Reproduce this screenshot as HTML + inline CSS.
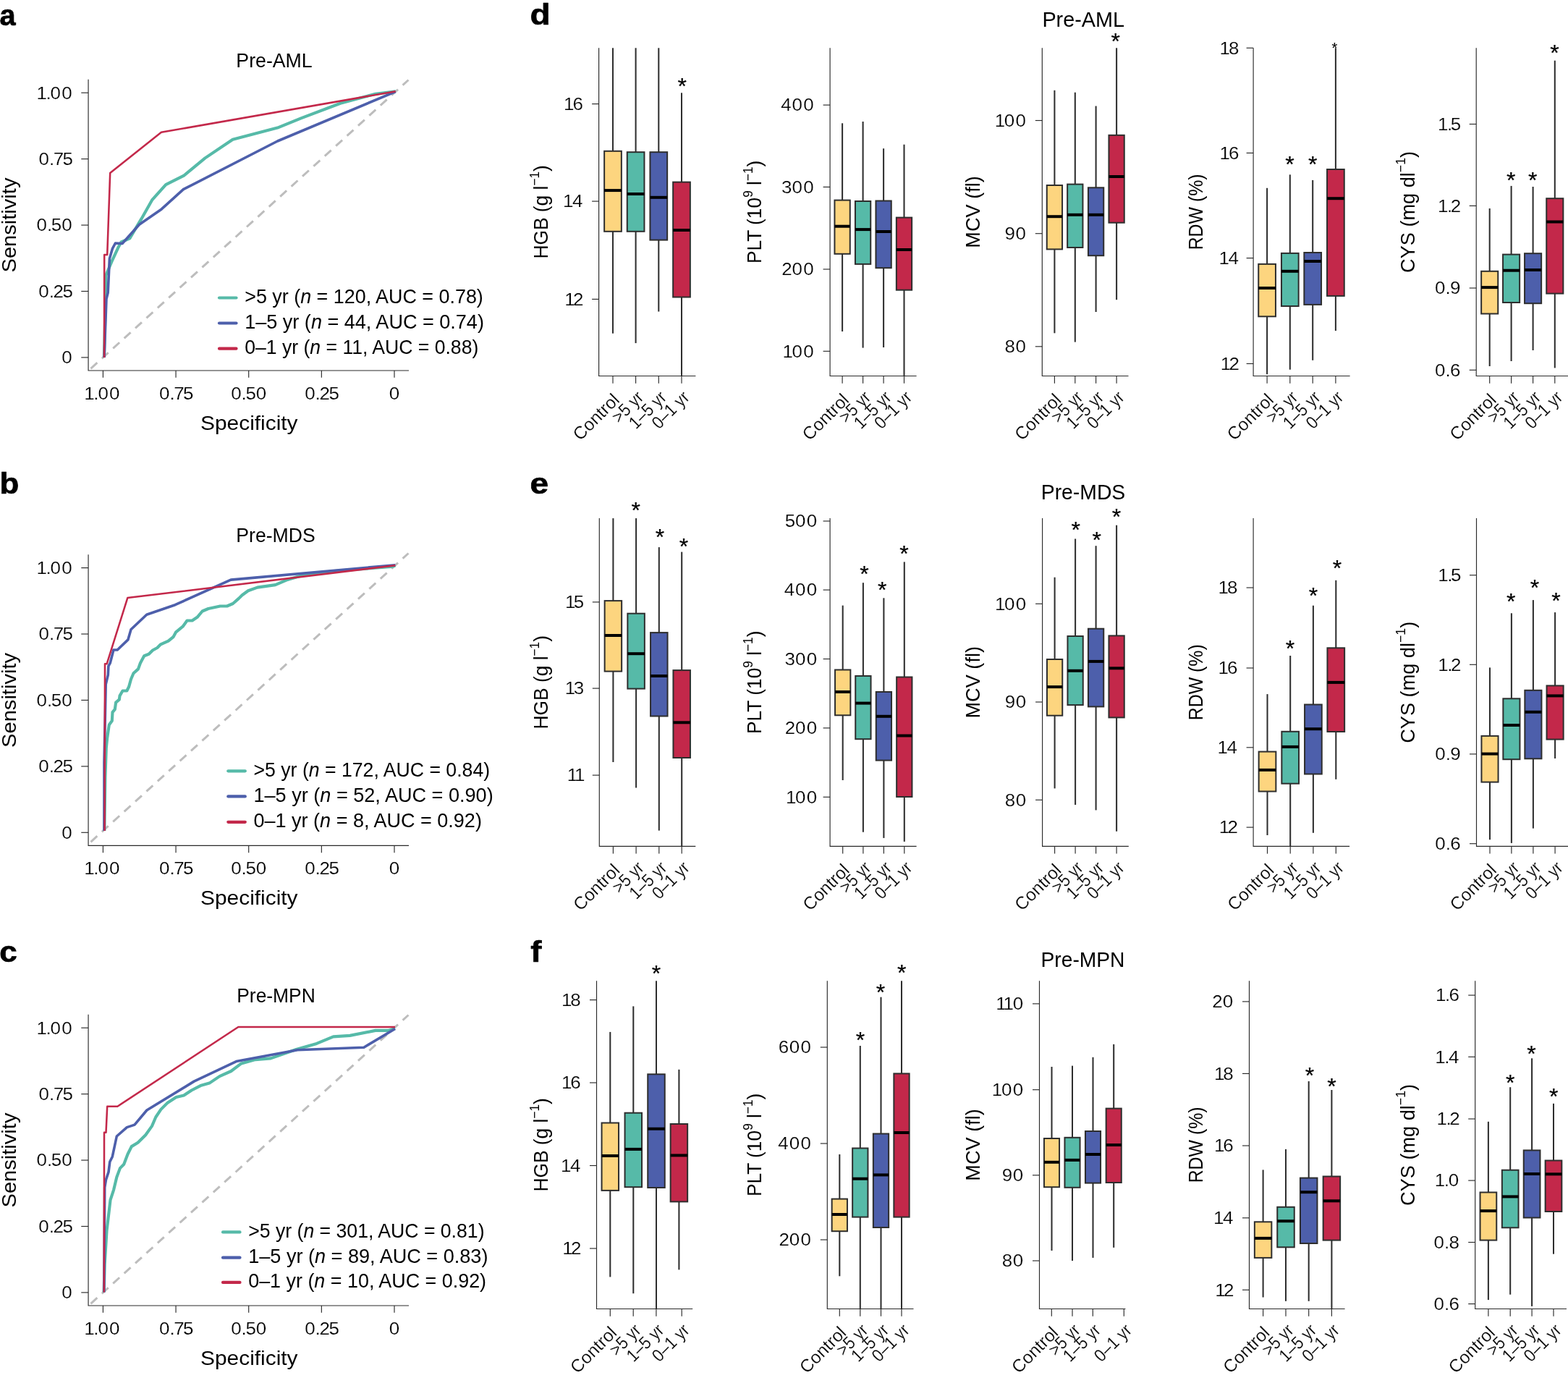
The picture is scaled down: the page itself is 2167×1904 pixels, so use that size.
<!DOCTYPE html>
<html lang="en">
<head>
<meta charset="utf-8">
<title>Figure: ROC curves and blood-count box plots for pre-AML, pre-MDS and pre-MPN</title>
<style>
html,body{margin:0;padding:0;background:#fff;}
body{width:2167px;height:1904px;overflow:hidden;}
svg{display:block;font-family:'Liberation Sans', Arial, Helvetica, sans-serif;fill:#000;}
text.hv{stroke:#000;}
text.tk{stroke:#fff;stroke-width:0.2px;}
</style>
</head>
<body>
<svg xmlns="http://www.w3.org/2000/svg" width="2167" height="1904" viewBox="0 0 2167 1904">
<rect width="2167" height="1904" fill="#fff"/>
<text class="hv" transform="translate(-0.6 34.5) scale(0.97 1)" font-size="41" font-weight="bold" stroke-width="0.7" stroke-linejoin="round">a</text>
<text class="hv" transform="translate(-0.6 681.7) scale(1.07 1)" font-size="41" font-weight="bold" stroke-width="0.7" stroke-linejoin="round">b</text>
<text class="hv" transform="translate(-0.8 1329) scale(1.075 1)" font-size="41" font-weight="bold" stroke-width="0.7" stroke-linejoin="round">c</text>
<text class="hv" transform="translate(732.6 34.2) scale(1.12 1)" font-size="41" font-weight="bold" stroke-width="0.7" stroke-linejoin="round">d</text>
<text class="hv" transform="translate(732.6 681.7) scale(1.12 1)" font-size="41" font-weight="bold" stroke-width="0.7" stroke-linejoin="round">e</text>
<text class="hv" transform="translate(733.3 1329.2) scale(1.11 1)" font-size="41" font-weight="bold" stroke-width="0.7" stroke-linejoin="round">f</text>
<line x1="125.45" y1="509.3" x2="564.5" y2="110.49" stroke="#bdbdbd" stroke-width="3" stroke-dasharray="12 8.8"/>
<polyline points="143.9,494 145.5,427.7 146.2,380.7 154.3,361.6 163.1,342.6 167.5,334.5 179.3,329.4 195.4,302.4 210.1,276.4 229.2,255.1 254.1,242.7 283.5,218.4 321.6,192.7 383.5,176.6 416,163.4 470.4,142.8 518.8,129.8 546.7,126.2" fill="none" stroke="#56BAA8" stroke-width="4.15" stroke-linejoin="round" stroke-linecap="butt"/>
<polyline points="144.1,494 147,413 149.2,404.2 151.4,357.2 155.5,343.3 159.4,336 169,336.5 192.5,310.3 223.3,288.9 253.4,261.7 383.5,195 546.7,126.6" fill="none" stroke="#4D5FAB" stroke-width="3.6" stroke-linejoin="round" stroke-linecap="butt"/>
<polyline points="144,494 144.2,351.9 148.2,351.9 152.2,239 222.9,182.8 546.7,126.2" fill="none" stroke="#C3284A" stroke-width="2.55" stroke-linejoin="round" stroke-linecap="butt"/>
<path d="M122.05 109.8V512H565" fill="none" stroke="#2a2a2a" stroke-width="1.15"/>
<line x1="142.4" y1="512" x2="142.4" y2="521.8" stroke="#2a2a2a" stroke-width="1.15"/>
<text class="tk" transform="translate(118.64 551.9) scale(1.06 1)" font-size="24.5" x="-2.19 10.09 15.86 30.63">1.00</text>
<line x1="112.25" y1="128.2" x2="122.05" y2="128.2" stroke="#2a2a2a" stroke-width="1.15"/>
<text class="tk" transform="translate(52.73 136.6) scale(1.06 1)" font-size="24.5" x="-2.19 10.09 15.86 30.63">1.00</text>
<line x1="243.05" y1="512" x2="243.05" y2="521.8" stroke="#2a2a2a" stroke-width="1.15"/>
<text class="tk" transform="translate(219.37 551.9) scale(1.06 1)" font-size="24.5" x="0.58 14.2 19.61 31.74">0.75</text>
<line x1="112.25" y1="219.62" x2="122.05" y2="219.62" stroke="#2a2a2a" stroke-width="1.15"/>
<text class="tk" transform="translate(52.89 228.03) scale(1.06 1)" font-size="24.5" x="0.58 14.2 19.61 31.74">0.75</text>
<line x1="343.7" y1="512" x2="343.7" y2="521.8" stroke="#2a2a2a" stroke-width="1.15"/>
<text class="tk" transform="translate(318.54 551.9) scale(1.06 1)" font-size="24.5" x="0.58 14.2 19.76 33.27">0.50</text>
<line x1="112.25" y1="311.05" x2="122.05" y2="311.05" stroke="#2a2a2a" stroke-width="1.15"/>
<text class="tk" transform="translate(49.93 319.45) scale(1.06 1)" font-size="24.5" x="0.58 14.2 19.76 33.27">0.50</text>
<line x1="444.35" y1="512" x2="444.35" y2="521.8" stroke="#2a2a2a" stroke-width="1.15"/>
<text class="tk" transform="translate(420.52 551.9) scale(1.06 1)" font-size="24.5" x="0.58 14.2 19.76 32.02">0.25</text>
<line x1="112.25" y1="402.47" x2="122.05" y2="402.47" stroke="#2a2a2a" stroke-width="1.15"/>
<text class="tk" transform="translate(52.59 410.87) scale(1.06 1)" font-size="24.5" x="0.58 14.2 19.76 32.02">0.25</text>
<line x1="545" y1="512" x2="545" y2="521.8" stroke="#2a2a2a" stroke-width="1.15"/>
<text class="tk" transform="translate(537.17 551.9) scale(1.06 1)" font-size="24.5" x="0.58">0</text>
<line x1="112.25" y1="493.9" x2="122.05" y2="493.9" stroke="#2a2a2a" stroke-width="1.15"/>
<text class="tk" transform="translate(84.59 502.3) scale(1.06 1)" font-size="24.5" x="0.58">0</text>
<text transform="translate(379 92.7) scale(0.9431 1)" font-size="28.3" text-anchor="middle">Pre-AML</text>
<text transform="translate(344.3 593.9) scale(1.0558 1)" font-size="28.3" text-anchor="middle">Specificity</text>
<text transform="translate(22.3 311.05) rotate(-90) scale(1.0283 1)" font-size="28.3" text-anchor="middle">Sensitivity</text>
<line x1="303" y1="411.5" x2="326.5" y2="411.5" stroke="#56BAA8" stroke-width="4.2" stroke-linecap="round"/>
<text transform="translate(338.2 418.9)" font-size="26.9">&gt;5 yr (<tspan font-style="italic">n</tspan> = 120, AUC = 0.78)</text>
<line x1="303" y1="446.5" x2="326.5" y2="446.5" stroke="#4D5FAB" stroke-width="4.2" stroke-linecap="round"/>
<text transform="translate(338.2 453.9) scale(1.0053 1)" font-size="26.9">1–5 yr (<tspan font-style="italic">n</tspan> = 44, AUC = 0.74)</text>
<line x1="303" y1="481.7" x2="326.5" y2="481.7" stroke="#C3284A" stroke-width="4.2" stroke-linecap="round"/>
<text transform="translate(338.2 489.1) scale(0.9885 1)" font-size="26.9">0–1 yr (<tspan font-style="italic">n</tspan> = 11, AUC = 0.88)</text>
<line x1="125.45" y1="1163.3" x2="564.5" y2="764.49" stroke="#bdbdbd" stroke-width="3" stroke-dasharray="12 8.8"/>
<polyline points="144.3,1148 145.4,1073.6 146.8,1033.5 148.1,1020.2 150.8,1001.5 154.8,996.1 155.5,984.1 158.8,980.1 160.1,970.7 164.8,966.7 165.5,961.4 169.5,954.5 175.3,954.5 178.1,949 181,938.5 184.5,930.3 191,924.4 193.9,916.2 199.2,906.2 205.7,903.8 211,898.5 217.4,895 222.1,890.3 232.7,885.6 239.7,879.8 243.2,873.3 252.6,865.7 258.5,857.5 265.6,857.5 272.6,852.8 279.6,844.5 287.9,841 304.3,837.5 313.7,837.5 321.9,834 330,826.9 334.7,822.2 342.9,816.3 355.8,811.6 380.5,808.1 395.7,801.6 416.9,795.2 459.2,789.3 541.3,782.9 546.3,781.5" fill="none" stroke="#56BAA8" stroke-width="4.15" stroke-linejoin="round" stroke-linecap="butt"/>
<polyline points="144,1148 144,1053.6 146.2,945.5 149.3,932.6 149.9,920.3 152.2,916.2 156.9,898 162.2,898 176.9,883.9 181,869.8 202.7,849.2 242.1,835.7 319,801.1 546.3,780.7" fill="none" stroke="#4D5FAB" stroke-width="3.6" stroke-linejoin="round" stroke-linecap="butt"/>
<polyline points="144.6,1148 145,917.3 147.6,917.3 176.3,826.1 546.3,781.2" fill="none" stroke="#C3284A" stroke-width="2.55" stroke-linejoin="round" stroke-linecap="butt"/>
<path d="M122.05 766.2V1168.4H565" fill="none" stroke="#2a2a2a" stroke-width="1.15"/>
<line x1="142.4" y1="1168.4" x2="142.4" y2="1178.2" stroke="#2a2a2a" stroke-width="1.15"/>
<text class="tk" transform="translate(118.64 1208.3) scale(1.06 1)" font-size="24.5" x="-2.19 10.09 15.86 30.63">1.00</text>
<line x1="112.25" y1="784.6" x2="122.05" y2="784.6" stroke="#2a2a2a" stroke-width="1.15"/>
<text class="tk" transform="translate(52.73 793) scale(1.06 1)" font-size="24.5" x="-2.19 10.09 15.86 30.63">1.00</text>
<line x1="243.05" y1="1168.4" x2="243.05" y2="1178.2" stroke="#2a2a2a" stroke-width="1.15"/>
<text class="tk" transform="translate(219.37 1208.3) scale(1.06 1)" font-size="24.5" x="0.58 14.2 19.61 31.74">0.75</text>
<line x1="112.25" y1="876.02" x2="122.05" y2="876.02" stroke="#2a2a2a" stroke-width="1.15"/>
<text class="tk" transform="translate(52.89 884.42) scale(1.06 1)" font-size="24.5" x="0.58 14.2 19.61 31.74">0.75</text>
<line x1="343.7" y1="1168.4" x2="343.7" y2="1178.2" stroke="#2a2a2a" stroke-width="1.15"/>
<text class="tk" transform="translate(318.54 1208.3) scale(1.06 1)" font-size="24.5" x="0.58 14.2 19.76 33.27">0.50</text>
<line x1="112.25" y1="967.45" x2="122.05" y2="967.45" stroke="#2a2a2a" stroke-width="1.15"/>
<text class="tk" transform="translate(49.93 975.85) scale(1.06 1)" font-size="24.5" x="0.58 14.2 19.76 33.27">0.50</text>
<line x1="444.35" y1="1168.4" x2="444.35" y2="1178.2" stroke="#2a2a2a" stroke-width="1.15"/>
<text class="tk" transform="translate(420.52 1208.3) scale(1.06 1)" font-size="24.5" x="0.58 14.2 19.76 32.02">0.25</text>
<line x1="112.25" y1="1058.88" x2="122.05" y2="1058.88" stroke="#2a2a2a" stroke-width="1.15"/>
<text class="tk" transform="translate(52.59 1067.28) scale(1.06 1)" font-size="24.5" x="0.58 14.2 19.76 32.02">0.25</text>
<line x1="545" y1="1168.4" x2="545" y2="1178.2" stroke="#2a2a2a" stroke-width="1.15"/>
<text class="tk" transform="translate(537.17 1208.3) scale(1.06 1)" font-size="24.5" x="0.58">0</text>
<line x1="112.25" y1="1150.3" x2="122.05" y2="1150.3" stroke="#2a2a2a" stroke-width="1.15"/>
<text class="tk" transform="translate(84.59 1158.7) scale(1.06 1)" font-size="24.5" x="0.58">0</text>
<text transform="translate(381 749.1) scale(0.9411 1)" font-size="28.3" text-anchor="middle">Pre-MDS</text>
<text transform="translate(344.3 1250.3) scale(1.0558 1)" font-size="28.3" text-anchor="middle">Specificity</text>
<text transform="translate(22.3 967.45) rotate(-90) scale(1.0283 1)" font-size="28.3" text-anchor="middle">Sensitivity</text>
<line x1="315.3" y1="1065.3" x2="338.8" y2="1065.3" stroke="#56BAA8" stroke-width="4.2" stroke-linecap="round"/>
<text transform="translate(350.5 1072.7) scale(0.9909 1)" font-size="26.9">&gt;5 yr (<tspan font-style="italic">n</tspan> = 172, AUC = 0.84)</text>
<line x1="315.3" y1="1100.4" x2="338.8" y2="1100.4" stroke="#4D5FAB" stroke-width="4.2" stroke-linecap="round"/>
<text transform="translate(350.5 1107.8) scale(1.0071 1)" font-size="26.9">1–5 yr (<tspan font-style="italic">n</tspan> = 52, AUC = 0.90)</text>
<line x1="315.3" y1="1135.8" x2="338.8" y2="1135.8" stroke="#C3284A" stroke-width="4.2" stroke-linecap="round"/>
<text transform="translate(350.5 1143.2) scale(1.0048 1)" font-size="26.9">0–1 yr (<tspan font-style="italic">n</tspan> = 8, AUC = 0.92)</text>
<line x1="125.45" y1="1801.3" x2="564.5" y2="1402.49" stroke="#bdbdbd" stroke-width="3" stroke-dasharray="12 8.8"/>
<polyline points="143.6,1785.4 144.7,1746.5 147.5,1700.6 150,1679.4 152.5,1658.2 157.1,1644.1 161.3,1626.5 165.9,1614.1 171.2,1608.8 176.5,1594.7 181.8,1584.1 190.6,1578.8 201.2,1568.2 210,1555.9 215.3,1543.5 222.4,1532.9 231.2,1524.1 243.5,1516 254.1,1513.5 264.7,1506.5 277.1,1500.1 289.4,1496.6 303.5,1487.1 319.4,1480 333.5,1469.4 352.9,1464.1 374.1,1462.4 409.4,1450 437.6,1441.9 460.6,1432.4 483.5,1430.9 518.8,1423.9 536.5,1423.9 546,1421" fill="none" stroke="#56BAA8" stroke-width="4.15" stroke-linejoin="round" stroke-linecap="butt"/>
<polyline points="143.8,1785.4 144.7,1640.6 146.5,1630 150,1619.4 151.8,1605.3 155.3,1598.2 161.3,1570 175.4,1557.6 186,1554.1 202.9,1534 268.2,1494.1 326.5,1466.6 411.2,1450.7 502.9,1447.2 546,1421.5" fill="none" stroke="#4D5FAB" stroke-width="3.6" stroke-linejoin="round" stroke-linecap="butt"/>
<polyline points="143.8,1785.4 144,1564.7 146.5,1564.7 148.2,1528.7 162.4,1528.7 329.3,1419 546,1419" fill="none" stroke="#C3284A" stroke-width="2.55" stroke-linejoin="round" stroke-linecap="butt"/>
<path d="M122.05 1401.8V1804H565" fill="none" stroke="#2a2a2a" stroke-width="1.15"/>
<line x1="142.4" y1="1804" x2="142.4" y2="1813.8" stroke="#2a2a2a" stroke-width="1.15"/>
<text class="tk" transform="translate(118.64 1843.9) scale(1.06 1)" font-size="24.5" x="-2.19 10.09 15.86 30.63">1.00</text>
<line x1="112.25" y1="1420.2" x2="122.05" y2="1420.2" stroke="#2a2a2a" stroke-width="1.15"/>
<text class="tk" transform="translate(52.73 1428.6) scale(1.06 1)" font-size="24.5" x="-2.19 10.09 15.86 30.63">1.00</text>
<line x1="243.05" y1="1804" x2="243.05" y2="1813.8" stroke="#2a2a2a" stroke-width="1.15"/>
<text class="tk" transform="translate(219.37 1843.9) scale(1.06 1)" font-size="24.5" x="0.58 14.2 19.61 31.74">0.75</text>
<line x1="112.25" y1="1511.62" x2="122.05" y2="1511.62" stroke="#2a2a2a" stroke-width="1.15"/>
<text class="tk" transform="translate(52.89 1520.03) scale(1.06 1)" font-size="24.5" x="0.58 14.2 19.61 31.74">0.75</text>
<line x1="343.7" y1="1804" x2="343.7" y2="1813.8" stroke="#2a2a2a" stroke-width="1.15"/>
<text class="tk" transform="translate(318.54 1843.9) scale(1.06 1)" font-size="24.5" x="0.58 14.2 19.76 33.27">0.50</text>
<line x1="112.25" y1="1603.05" x2="122.05" y2="1603.05" stroke="#2a2a2a" stroke-width="1.15"/>
<text class="tk" transform="translate(49.93 1611.45) scale(1.06 1)" font-size="24.5" x="0.58 14.2 19.76 33.27">0.50</text>
<line x1="444.35" y1="1804" x2="444.35" y2="1813.8" stroke="#2a2a2a" stroke-width="1.15"/>
<text class="tk" transform="translate(420.52 1843.9) scale(1.06 1)" font-size="24.5" x="0.58 14.2 19.76 32.02">0.25</text>
<line x1="112.25" y1="1694.48" x2="122.05" y2="1694.48" stroke="#2a2a2a" stroke-width="1.15"/>
<text class="tk" transform="translate(52.59 1702.88) scale(1.06 1)" font-size="24.5" x="0.58 14.2 19.76 32.02">0.25</text>
<line x1="545" y1="1804" x2="545" y2="1813.8" stroke="#2a2a2a" stroke-width="1.15"/>
<text class="tk" transform="translate(537.17 1843.9) scale(1.06 1)" font-size="24.5" x="0.58">0</text>
<line x1="112.25" y1="1785.9" x2="122.05" y2="1785.9" stroke="#2a2a2a" stroke-width="1.15"/>
<text class="tk" transform="translate(84.59 1794.3) scale(1.06 1)" font-size="24.5" x="0.58">0</text>
<text transform="translate(381.5 1384.7) scale(0.9333 1)" font-size="28.3" text-anchor="middle">Pre-MPN</text>
<text transform="translate(344.3 1885.9) scale(1.0558 1)" font-size="28.3" text-anchor="middle">Specificity</text>
<text transform="translate(22.3 1603.05) rotate(-90) scale(1.0283 1)" font-size="28.3" text-anchor="middle">Sensitivity</text>
<line x1="308" y1="1702.4" x2="331.5" y2="1702.4" stroke="#56BAA8" stroke-width="4.2" stroke-linecap="round"/>
<text transform="translate(343.2 1709.8) scale(0.9903 1)" font-size="26.9">&gt;5 yr (<tspan font-style="italic">n</tspan> = 301, AUC = 0.81)</text>
<line x1="308" y1="1737.7" x2="331.5" y2="1737.7" stroke="#4D5FAB" stroke-width="4.2" stroke-linecap="round"/>
<text transform="translate(343.2 1745.1) scale(1.0074 1)" font-size="26.9">1–5 yr (<tspan font-style="italic">n</tspan> = 89, AUC = 0.83)</text>
<line x1="308" y1="1771.9" x2="331.5" y2="1771.9" stroke="#C3284A" stroke-width="4.2" stroke-linecap="round"/>
<text transform="translate(343.2 1779.3)" font-size="26.9">0–1 yr (<tspan font-style="italic">n</tspan> = 10, AUC = 0.92)</text>
<line x1="847" y1="66.3" x2="847" y2="208.8" stroke="#2e2e2e" stroke-width="2.05"/>
<line x1="847" y1="319.8" x2="847" y2="460.7" stroke="#2e2e2e" stroke-width="2.05"/>
<rect x="835.15" y="208.8" width="23.7" height="111" fill="#FDD57F" stroke="#2e2e2e" stroke-width="2"/>
<line x1="835.1" y1="263.1" x2="858.9" y2="263.1" stroke="#000" stroke-width="4"/>
<line x1="878.6" y1="66.3" x2="878.6" y2="210.2" stroke="#2e2e2e" stroke-width="2.05"/>
<line x1="878.6" y1="319.8" x2="878.6" y2="474.1" stroke="#2e2e2e" stroke-width="2.05"/>
<rect x="866.75" y="210.2" width="23.7" height="109.6" fill="#56BAA8" stroke="#2e2e2e" stroke-width="2"/>
<line x1="866.7" y1="268" x2="890.5" y2="268" stroke="#000" stroke-width="4"/>
<line x1="910.3" y1="66.3" x2="910.3" y2="210.2" stroke="#2e2e2e" stroke-width="2.05"/>
<line x1="910.3" y1="331.6" x2="910.3" y2="430.5" stroke="#2e2e2e" stroke-width="2.05"/>
<rect x="898.45" y="210.2" width="23.7" height="121.4" fill="#4D5FAB" stroke="#2e2e2e" stroke-width="2"/>
<line x1="898.4" y1="272.8" x2="922.2" y2="272.8" stroke="#000" stroke-width="4"/>
<line x1="942" y1="128.3" x2="942" y2="251.6" stroke="#2e2e2e" stroke-width="2.05"/>
<line x1="942" y1="410.5" x2="942" y2="519.5" stroke="#2e2e2e" stroke-width="2.05"/>
<rect x="930.15" y="251.6" width="23.7" height="158.9" fill="#C3284A" stroke="#2e2e2e" stroke-width="2"/>
<line x1="930.1" y1="318" x2="953.9" y2="318" stroke="#000" stroke-width="4"/>
<path d="M827.6 66.3V519.5H961.4" fill="none" stroke="#2a2a2a" stroke-width="1.15"/>
<line x1="818.1" y1="143.6" x2="827.6" y2="143.6" stroke="#2a2a2a" stroke-width="1.15"/>
<text class="tk" transform="translate(781.3 151.9) scale(1.06 1)" font-size="24.5" x="-2.19 9.56">16</text>
<line x1="818.1" y1="278.1" x2="827.6" y2="278.1" stroke="#2a2a2a" stroke-width="1.15"/>
<text class="tk" transform="translate(780.4 286.4) scale(1.06 1)" font-size="24.5" x="-2.19 9.98">14</text>
<line x1="818.1" y1="413.4" x2="827.6" y2="413.4" stroke="#2a2a2a" stroke-width="1.15"/>
<text class="tk" transform="translate(782.6 421.7) scale(1.06 1)" font-size="24.5" x="-2.19 8.94">12</text>
<line x1="847" y1="519.5" x2="847" y2="529.7" stroke="#2a2a2a" stroke-width="1.15"/>
<text class="tk" transform="translate(857.6 554.1) rotate(-45)" font-size="24.5" text-anchor="end">Control</text>
<line x1="878.6" y1="519.5" x2="878.6" y2="529.7" stroke="#2a2a2a" stroke-width="1.15"/>
<text class="tk" transform="translate(890.7 550.6) rotate(-45) scale(0.9 1)" font-size="24.5" text-anchor="end">&gt;5 yr</text>
<line x1="910.3" y1="519.5" x2="910.3" y2="529.7" stroke="#2a2a2a" stroke-width="1.15"/>
<text class="tk" transform="translate(922.4 550.6) rotate(-45) scale(0.9 1)" font-size="24.5" text-anchor="end">1–5 yr</text>
<line x1="942" y1="519.5" x2="942" y2="529.7" stroke="#2a2a2a" stroke-width="1.15"/>
<text class="tk" transform="translate(954.1 550.6) rotate(-45) scale(0.9 1)" font-size="24.5" text-anchor="end">0–1 yr</text>
<text x="942.7" y="129.84" font-size="32" text-anchor="middle" class="hv" stroke-width="0.25">*</text>
<text transform="translate(757.3 292.9) rotate(-90) scale(0.9315 1)" font-size="28.3" text-anchor="middle">HGB (g l<tspan font-size="18.5" dy="-12.5">−1</tspan><tspan dy="12.5">)</tspan></text>
<line x1="1164.1" y1="170.3" x2="1164.1" y2="276.6" stroke="#2e2e2e" stroke-width="2.05"/>
<line x1="1164.1" y1="350.8" x2="1164.1" y2="458" stroke="#2e2e2e" stroke-width="2.05"/>
<rect x="1153.45" y="276.6" width="21.3" height="74.2" fill="#FDD57F" stroke="#2e2e2e" stroke-width="2"/>
<line x1="1153.4" y1="312.7" x2="1174.8" y2="312.7" stroke="#000" stroke-width="4"/>
<line x1="1192.6" y1="168" x2="1192.6" y2="278" stroke="#2e2e2e" stroke-width="2.05"/>
<line x1="1192.6" y1="364.9" x2="1192.6" y2="480.6" stroke="#2e2e2e" stroke-width="2.05"/>
<rect x="1181.95" y="278" width="21.3" height="86.9" fill="#56BAA8" stroke="#2e2e2e" stroke-width="2"/>
<line x1="1181.9" y1="317.1" x2="1203.3" y2="317.1" stroke="#000" stroke-width="4"/>
<line x1="1221.1" y1="205.2" x2="1221.1" y2="277.5" stroke="#2e2e2e" stroke-width="2.05"/>
<line x1="1221.1" y1="370.2" x2="1221.1" y2="480" stroke="#2e2e2e" stroke-width="2.05"/>
<rect x="1210.45" y="277.5" width="21.3" height="92.7" fill="#4D5FAB" stroke="#2e2e2e" stroke-width="2"/>
<line x1="1210.4" y1="320" x2="1231.8" y2="320" stroke="#000" stroke-width="4"/>
<line x1="1249.5" y1="199.7" x2="1249.5" y2="300.6" stroke="#2e2e2e" stroke-width="2.05"/>
<line x1="1249.5" y1="400.7" x2="1249.5" y2="519.5" stroke="#2e2e2e" stroke-width="2.05"/>
<rect x="1238.85" y="300.6" width="21.3" height="100.1" fill="#C3284A" stroke="#2e2e2e" stroke-width="2"/>
<line x1="1238.8" y1="345" x2="1260.2" y2="345" stroke="#000" stroke-width="4"/>
<path d="M1147.1 66.3V519.5H1266.6" fill="none" stroke="#2a2a2a" stroke-width="1.15"/>
<line x1="1137.6" y1="145.1" x2="1147.1" y2="145.1" stroke="#2a2a2a" stroke-width="1.15"/>
<text class="tk" transform="translate(1078.78 153.4) scale(1.06 1)" font-size="24.5" x="0.36 14.92 29.69">400</text>
<line x1="1137.6" y1="258.4" x2="1147.1" y2="258.4" stroke="#2a2a2a" stroke-width="1.15"/>
<text class="tk" transform="translate(1080.68 266.7) scale(1.06 1)" font-size="24.5" x="-0.54 13.12 27.9">300</text>
<line x1="1137.6" y1="372" x2="1147.1" y2="372" stroke="#2a2a2a" stroke-width="1.15"/>
<text class="tk" transform="translate(1080.98 380.3) scale(1.06 1)" font-size="24.5" x="-0.68 12.84 27.61">200</text>
<line x1="1137.6" y1="485.3" x2="1147.1" y2="485.3" stroke="#2a2a2a" stroke-width="1.15"/>
<text class="tk" transform="translate(1083.78 493.6) scale(1.06 1)" font-size="24.5" x="-2.19 10.2 24.97">100</text>
<line x1="1164.1" y1="519.5" x2="1164.1" y2="529.7" stroke="#2a2a2a" stroke-width="1.15"/>
<text class="tk" transform="translate(1174.7 554.1) rotate(-45)" font-size="24.5" text-anchor="end">Control</text>
<line x1="1192.6" y1="519.5" x2="1192.6" y2="529.7" stroke="#2a2a2a" stroke-width="1.15"/>
<text class="tk" transform="translate(1204.7 550.6) rotate(-45) scale(0.9 1)" font-size="24.5" text-anchor="end">&gt;5 yr</text>
<line x1="1221.1" y1="519.5" x2="1221.1" y2="529.7" stroke="#2a2a2a" stroke-width="1.15"/>
<text class="tk" transform="translate(1233.2 550.6) rotate(-45) scale(0.9 1)" font-size="24.5" text-anchor="end">1–5 yr</text>
<line x1="1249.5" y1="519.5" x2="1249.5" y2="529.7" stroke="#2a2a2a" stroke-width="1.15"/>
<text class="tk" transform="translate(1261.6 550.6) rotate(-45) scale(0.9 1)" font-size="24.5" text-anchor="end">0–1 yr</text>
<text transform="translate(1052 292.9) rotate(-90) scale(0.9313 1)" font-size="28.3" text-anchor="middle">PLT (10<tspan font-size="18.5" dy="-12.5">9</tspan><tspan dy="12.5"> l</tspan><tspan font-size="18.5" dy="-12.5">−1</tspan><tspan dy="12.5">)</tspan></text>
<line x1="1457.4" y1="124.8" x2="1457.4" y2="256" stroke="#2e2e2e" stroke-width="2.05"/>
<line x1="1457.4" y1="344.4" x2="1457.4" y2="460.3" stroke="#2e2e2e" stroke-width="2.05"/>
<rect x="1446.75" y="256" width="21.3" height="88.4" fill="#FDD57F" stroke="#2e2e2e" stroke-width="2"/>
<line x1="1446.7" y1="299.2" x2="1468.1" y2="299.2" stroke="#000" stroke-width="4"/>
<line x1="1485.8" y1="127.7" x2="1485.8" y2="254.6" stroke="#2e2e2e" stroke-width="2.05"/>
<line x1="1485.8" y1="342" x2="1485.8" y2="472.6" stroke="#2e2e2e" stroke-width="2.05"/>
<rect x="1475.15" y="254.6" width="21.3" height="87.4" fill="#56BAA8" stroke="#2e2e2e" stroke-width="2"/>
<line x1="1475.1" y1="296.8" x2="1496.5" y2="296.8" stroke="#000" stroke-width="4"/>
<line x1="1514.6" y1="146.5" x2="1514.6" y2="259.3" stroke="#2e2e2e" stroke-width="2.05"/>
<line x1="1514.6" y1="353.2" x2="1514.6" y2="431" stroke="#2e2e2e" stroke-width="2.05"/>
<rect x="1503.95" y="259.3" width="21.3" height="93.9" fill="#4D5FAB" stroke="#2e2e2e" stroke-width="2"/>
<line x1="1503.9" y1="296.8" x2="1525.3" y2="296.8" stroke="#000" stroke-width="4"/>
<line x1="1543.1" y1="66.3" x2="1543.1" y2="186.8" stroke="#2e2e2e" stroke-width="2.05"/>
<line x1="1543.1" y1="307.7" x2="1543.1" y2="414.2" stroke="#2e2e2e" stroke-width="2.05"/>
<rect x="1532.45" y="186.8" width="21.3" height="120.9" fill="#C3284A" stroke="#2e2e2e" stroke-width="2"/>
<line x1="1532.4" y1="244" x2="1553.8" y2="244" stroke="#000" stroke-width="4"/>
<path d="M1440.3 66.3V519.5H1559.5" fill="none" stroke="#2a2a2a" stroke-width="1.15"/>
<line x1="1430.8" y1="166.5" x2="1440.3" y2="166.5" stroke="#2a2a2a" stroke-width="1.15"/>
<text class="tk" transform="translate(1376.98 174.8) scale(1.06 1)" font-size="24.5" x="-2.19 10.2 24.97">100</text>
<line x1="1430.8" y1="322.7" x2="1440.3" y2="322.7" stroke="#2a2a2a" stroke-width="1.15"/>
<text class="tk" transform="translate(1388.54 331) scale(1.06 1)" font-size="24.5" x="-0.07 14.07">90</text>
<line x1="1430.8" y1="478.8" x2="1440.3" y2="478.8" stroke="#2a2a2a" stroke-width="1.15"/>
<text class="tk" transform="translate(1388.54 487.1) scale(1.06 1)" font-size="24.5" x="-0.07 14.07">80</text>
<line x1="1457.4" y1="519.5" x2="1457.4" y2="529.7" stroke="#2a2a2a" stroke-width="1.15"/>
<text class="tk" transform="translate(1468 554.1) rotate(-45)" font-size="24.5" text-anchor="end">Control</text>
<line x1="1485.8" y1="519.5" x2="1485.8" y2="529.7" stroke="#2a2a2a" stroke-width="1.15"/>
<text class="tk" transform="translate(1497.9 550.6) rotate(-45) scale(0.9 1)" font-size="24.5" text-anchor="end">&gt;5 yr</text>
<line x1="1514.6" y1="519.5" x2="1514.6" y2="529.7" stroke="#2a2a2a" stroke-width="1.15"/>
<text class="tk" transform="translate(1526.7 550.6) rotate(-45) scale(0.9 1)" font-size="24.5" text-anchor="end">1–5 yr</text>
<line x1="1543.1" y1="519.5" x2="1543.1" y2="529.7" stroke="#2a2a2a" stroke-width="1.15"/>
<text class="tk" transform="translate(1555.2 550.6) rotate(-45) scale(0.9 1)" font-size="24.5" text-anchor="end">0–1 yr</text>
<text x="1541.7" y="68.34" font-size="32" text-anchor="middle" class="hv" stroke-width="0.25">*</text>
<text transform="translate(1354.4 292.9) rotate(-90) scale(0.9590 1)" font-size="28.3" text-anchor="middle">MCV (fl)</text>
<line x1="1751.1" y1="259.8" x2="1751.1" y2="364.9" stroke="#2e2e2e" stroke-width="2.05"/>
<line x1="1751.1" y1="437.3" x2="1751.1" y2="517.2" stroke="#2e2e2e" stroke-width="2.05"/>
<rect x="1739.25" y="364.9" width="23.7" height="72.4" fill="#FDD57F" stroke="#2e2e2e" stroke-width="2"/>
<line x1="1739.2" y1="398" x2="1763" y2="398" stroke="#000" stroke-width="4"/>
<line x1="1782.8" y1="241.3" x2="1782.8" y2="349.9" stroke="#2e2e2e" stroke-width="2.05"/>
<line x1="1782.8" y1="423" x2="1782.8" y2="510.7" stroke="#2e2e2e" stroke-width="2.05"/>
<rect x="1770.95" y="349.9" width="23.7" height="73.1" fill="#56BAA8" stroke="#2e2e2e" stroke-width="2"/>
<line x1="1770.9" y1="374.8" x2="1794.7" y2="374.8" stroke="#000" stroke-width="4"/>
<line x1="1814.2" y1="248.9" x2="1814.2" y2="349" stroke="#2e2e2e" stroke-width="2.05"/>
<line x1="1814.2" y1="420.9" x2="1814.2" y2="497.8" stroke="#2e2e2e" stroke-width="2.05"/>
<rect x="1802.35" y="349" width="23.7" height="71.9" fill="#4D5FAB" stroke="#2e2e2e" stroke-width="2"/>
<line x1="1802.3" y1="361" x2="1826.1" y2="361" stroke="#000" stroke-width="4"/>
<line x1="1845.9" y1="66.3" x2="1845.9" y2="234" stroke="#2e2e2e" stroke-width="2.05"/>
<line x1="1845.9" y1="408.9" x2="1845.9" y2="457" stroke="#2e2e2e" stroke-width="2.05"/>
<rect x="1834.05" y="234" width="23.7" height="174.9" fill="#C3284A" stroke="#2e2e2e" stroke-width="2"/>
<line x1="1834" y1="274.2" x2="1857.8" y2="274.2" stroke="#000" stroke-width="4"/>
<path d="M1732.1 66.3V519.5H1865.6" fill="none" stroke="#2a2a2a" stroke-width="1.15"/>
<line x1="1722.6" y1="66.3" x2="1732.1" y2="66.3" stroke="#2a2a2a" stroke-width="1.15"/>
<text class="tk" transform="translate(1687.8 74.6) scale(1.06 1)" font-size="24.5" x="-2.19 9.56">18</text>
<line x1="1722.6" y1="211.4" x2="1732.1" y2="211.4" stroke="#2a2a2a" stroke-width="1.15"/>
<text class="tk" transform="translate(1687.8 219.7) scale(1.06 1)" font-size="24.5" x="-2.19 9.56">16</text>
<line x1="1722.6" y1="356.6" x2="1732.1" y2="356.6" stroke="#2a2a2a" stroke-width="1.15"/>
<text class="tk" transform="translate(1686.9 364.9) scale(1.06 1)" font-size="24.5" x="-2.19 9.98">14</text>
<line x1="1722.6" y1="502.5" x2="1732.1" y2="502.5" stroke="#2a2a2a" stroke-width="1.15"/>
<text class="tk" transform="translate(1689.1 510.8) scale(1.06 1)" font-size="24.5" x="-2.19 8.94">12</text>
<line x1="1751.1" y1="519.5" x2="1751.1" y2="529.7" stroke="#2a2a2a" stroke-width="1.15"/>
<text class="tk" transform="translate(1761.7 554.1) rotate(-45)" font-size="24.5" text-anchor="end">Control</text>
<line x1="1782.8" y1="519.5" x2="1782.8" y2="529.7" stroke="#2a2a2a" stroke-width="1.15"/>
<text class="tk" transform="translate(1794.9 550.6) rotate(-45) scale(0.9 1)" font-size="24.5" text-anchor="end">&gt;5 yr</text>
<line x1="1814.2" y1="519.5" x2="1814.2" y2="529.7" stroke="#2a2a2a" stroke-width="1.15"/>
<text class="tk" transform="translate(1826.3 550.6) rotate(-45) scale(0.9 1)" font-size="24.5" text-anchor="end">1–5 yr</text>
<line x1="1845.9" y1="519.5" x2="1845.9" y2="529.7" stroke="#2a2a2a" stroke-width="1.15"/>
<text class="tk" transform="translate(1858 550.6) rotate(-45) scale(0.9 1)" font-size="24.5" text-anchor="end">0–1 yr</text>
<text x="1782.5" y="238.04" font-size="32" text-anchor="middle" class="hv" stroke-width="0.25">*</text>
<text x="1814.2" y="238.04" font-size="32" text-anchor="middle" class="hv" stroke-width="0.25">*</text>
<text x="1844.5" y="72.5" font-size="20" text-anchor="middle" class="hv" stroke-width="0.15">*</text>
<text transform="translate(1662.3 292.9) rotate(-90) scale(0.8789 1)" font-size="28.3" text-anchor="middle">RDW (%)</text>
<line x1="2058.7" y1="288" x2="2058.7" y2="374.8" stroke="#2e2e2e" stroke-width="2.05"/>
<line x1="2058.7" y1="433.5" x2="2058.7" y2="506" stroke="#2e2e2e" stroke-width="2.05"/>
<rect x="2047.15" y="374.8" width="23.1" height="58.7" fill="#FDD57F" stroke="#2e2e2e" stroke-width="2"/>
<line x1="2047.1" y1="397.1" x2="2070.3" y2="397.1" stroke="#000" stroke-width="4"/>
<line x1="2088.6" y1="256.9" x2="2088.6" y2="351.6" stroke="#2e2e2e" stroke-width="2.05"/>
<line x1="2088.6" y1="418" x2="2088.6" y2="499" stroke="#2e2e2e" stroke-width="2.05"/>
<rect x="2077.05" y="351.6" width="23.1" height="66.4" fill="#56BAA8" stroke="#2e2e2e" stroke-width="2"/>
<line x1="2077" y1="373.7" x2="2100.2" y2="373.7" stroke="#000" stroke-width="4"/>
<line x1="2118.6" y1="258" x2="2118.6" y2="350.2" stroke="#2e2e2e" stroke-width="2.05"/>
<line x1="2118.6" y1="419.2" x2="2118.6" y2="484" stroke="#2e2e2e" stroke-width="2.05"/>
<rect x="2107.05" y="350.2" width="23.1" height="69" fill="#4D5FAB" stroke="#2e2e2e" stroke-width="2"/>
<line x1="2107" y1="373" x2="2130.2" y2="373" stroke="#000" stroke-width="4"/>
<line x1="2148.8" y1="83.7" x2="2148.8" y2="274.2" stroke="#2e2e2e" stroke-width="2.05"/>
<line x1="2148.8" y1="405.6" x2="2148.8" y2="508.4" stroke="#2e2e2e" stroke-width="2.05"/>
<rect x="2137.25" y="274.2" width="23.1" height="131.4" fill="#C3284A" stroke="#2e2e2e" stroke-width="2"/>
<line x1="2137.2" y1="306.5" x2="2160.4" y2="306.5" stroke="#000" stroke-width="4"/>
<path d="M2040.2 66.3V519.5H2167" fill="none" stroke="#2a2a2a" stroke-width="1.15"/>
<line x1="2030.7" y1="171.5" x2="2040.2" y2="171.5" stroke="#2a2a2a" stroke-width="1.15"/>
<text class="tk" transform="translate(1989.2 179.8) scale(1.06 1)" font-size="24.5" x="-2.19 10.09 14.6">1.5</text>
<line x1="2030.7" y1="284.4" x2="2040.2" y2="284.4" stroke="#2a2a2a" stroke-width="1.15"/>
<text class="tk" transform="translate(1989.2 292.7) scale(1.06 1)" font-size="24.5" x="-2.19 10.09 14.6">1.2</text>
<line x1="2030.7" y1="398" x2="2040.2" y2="398" stroke="#2a2a2a" stroke-width="1.15"/>
<text class="tk" transform="translate(1982.44 406.3) scale(1.06 1)" font-size="24.5" x="0.58 14.2 20.37">0.9</text>
<line x1="2030.7" y1="511.3" x2="2040.2" y2="511.3" stroke="#2a2a2a" stroke-width="1.15"/>
<text class="tk" transform="translate(1982.44 519.6) scale(1.06 1)" font-size="24.5" x="0.58 14.2 20.37">0.6</text>
<line x1="2058.7" y1="519.5" x2="2058.7" y2="529.7" stroke="#2a2a2a" stroke-width="1.15"/>
<text class="tk" transform="translate(2069.3 554.1) rotate(-45)" font-size="24.5" text-anchor="end">Control</text>
<line x1="2088.6" y1="519.5" x2="2088.6" y2="529.7" stroke="#2a2a2a" stroke-width="1.15"/>
<text class="tk" transform="translate(2100.7 550.6) rotate(-45) scale(0.9 1)" font-size="24.5" text-anchor="end">&gt;5 yr</text>
<line x1="2118.6" y1="519.5" x2="2118.6" y2="529.7" stroke="#2a2a2a" stroke-width="1.15"/>
<text class="tk" transform="translate(2130.7 550.6) rotate(-45) scale(0.9 1)" font-size="24.5" text-anchor="end">1–5 yr</text>
<line x1="2148.8" y1="519.5" x2="2148.8" y2="529.7" stroke="#2a2a2a" stroke-width="1.15"/>
<text class="tk" transform="translate(2160.9 550.6) rotate(-45) scale(0.9 1)" font-size="24.5" text-anchor="end">0–1 yr</text>
<text x="2088.3" y="260.04" font-size="32" text-anchor="middle" class="hv" stroke-width="0.25">*</text>
<text x="2118.3" y="260.04" font-size="32" text-anchor="middle" class="hv" stroke-width="0.25">*</text>
<text x="2148.5" y="84.04" font-size="32" text-anchor="middle" class="hv" stroke-width="0.25">*</text>
<text transform="translate(1954.5 292.9) rotate(-90) scale(0.9589 1)" font-size="28.3" text-anchor="middle">CYS (mg dl<tspan font-size="18.5" dy="-12.5">−1</tspan><tspan dy="12.5">)</tspan></text>
<line x1="847.4" y1="716.1" x2="847.4" y2="830.1" stroke="#2e2e2e" stroke-width="2.05"/>
<line x1="847.4" y1="927.6" x2="847.4" y2="1053" stroke="#2e2e2e" stroke-width="2.05"/>
<rect x="835.65" y="830.1" width="23.5" height="97.5" fill="#FDD57F" stroke="#2e2e2e" stroke-width="2"/>
<line x1="835.6" y1="878" x2="859.2" y2="878" stroke="#000" stroke-width="4"/>
<line x1="879.1" y1="716.1" x2="879.1" y2="847.7" stroke="#2e2e2e" stroke-width="2.05"/>
<line x1="879.1" y1="951.6" x2="879.1" y2="1088.5" stroke="#2e2e2e" stroke-width="2.05"/>
<rect x="867.35" y="847.7" width="23.5" height="103.9" fill="#56BAA8" stroke="#2e2e2e" stroke-width="2"/>
<line x1="867.3" y1="903.2" x2="890.9" y2="903.2" stroke="#000" stroke-width="4"/>
<line x1="910.8" y1="756.1" x2="910.8" y2="874.1" stroke="#2e2e2e" stroke-width="2.05"/>
<line x1="910.8" y1="989.5" x2="910.8" y2="1147.6" stroke="#2e2e2e" stroke-width="2.05"/>
<rect x="899.05" y="874.1" width="23.5" height="115.4" fill="#4D5FAB" stroke="#2e2e2e" stroke-width="2"/>
<line x1="899" y1="934" x2="922.6" y2="934" stroke="#000" stroke-width="4"/>
<line x1="942.2" y1="762.6" x2="942.2" y2="926.1" stroke="#2e2e2e" stroke-width="2.05"/>
<line x1="942.2" y1="1047" x2="942.2" y2="1169.4" stroke="#2e2e2e" stroke-width="2.05"/>
<rect x="930.45" y="926.1" width="23.5" height="120.9" fill="#C3284A" stroke="#2e2e2e" stroke-width="2"/>
<line x1="930.4" y1="998.3" x2="954" y2="998.3" stroke="#000" stroke-width="4"/>
<path d="M828.3 716.1V1169.4H961.3" fill="none" stroke="#2a2a2a" stroke-width="1.15"/>
<line x1="818.8" y1="831.9" x2="828.3" y2="831.9" stroke="#2a2a2a" stroke-width="1.15"/>
<text class="tk" transform="translate(783.3 840.2) scale(1.06 1)" font-size="24.5" x="-2.19 8.94">15</text>
<line x1="818.8" y1="951.1" x2="828.3" y2="951.1" stroke="#2a2a2a" stroke-width="1.15"/>
<text class="tk" transform="translate(783 959.4) scale(1.06 1)" font-size="24.5" x="-2.19 9.09">13</text>
<line x1="818.8" y1="1071.1" x2="828.3" y2="1071.1" stroke="#2a2a2a" stroke-width="1.15"/>
<text class="tk" transform="translate(786.1 1079.4) scale(1.06 1)" font-size="24.5" x="-2.19 7.43">11</text>
<line x1="847.4" y1="1169.4" x2="847.4" y2="1179.6" stroke="#2a2a2a" stroke-width="1.15"/>
<text class="tk" transform="translate(858 1204) rotate(-45)" font-size="24.5" text-anchor="end">Control</text>
<line x1="879.1" y1="1169.4" x2="879.1" y2="1179.6" stroke="#2a2a2a" stroke-width="1.15"/>
<text class="tk" transform="translate(891.2 1200.5) rotate(-45) scale(0.9 1)" font-size="24.5" text-anchor="end">&gt;5 yr</text>
<line x1="910.8" y1="1169.4" x2="910.8" y2="1179.6" stroke="#2a2a2a" stroke-width="1.15"/>
<text class="tk" transform="translate(922.9 1200.5) rotate(-45) scale(0.9 1)" font-size="24.5" text-anchor="end">1–5 yr</text>
<line x1="942.2" y1="1169.4" x2="942.2" y2="1179.6" stroke="#2a2a2a" stroke-width="1.15"/>
<text class="tk" transform="translate(954.3 1200.5) rotate(-45) scale(0.9 1)" font-size="24.5" text-anchor="end">0–1 yr</text>
<text x="878.8" y="715.94" font-size="32" text-anchor="middle" class="hv" stroke-width="0.25">*</text>
<text x="912" y="752.64" font-size="32" text-anchor="middle" class="hv" stroke-width="0.25">*</text>
<text x="945.1" y="765.84" font-size="32" text-anchor="middle" class="hv" stroke-width="0.25">*</text>
<text transform="translate(757.3 942.75) rotate(-90) scale(0.9315 1)" font-size="28.3" text-anchor="middle">HGB (g l<tspan font-size="18.5" dy="-12.5">−1</tspan><tspan dy="12.5">)</tspan></text>
<line x1="1164.7" y1="836.6" x2="1164.7" y2="925.5" stroke="#2e2e2e" stroke-width="2.05"/>
<line x1="1164.7" y1="988.3" x2="1164.7" y2="1078" stroke="#2e2e2e" stroke-width="2.05"/>
<rect x="1154.05" y="925.5" width="21.3" height="62.8" fill="#FDD57F" stroke="#2e2e2e" stroke-width="2"/>
<line x1="1154" y1="956" x2="1175.4" y2="956" stroke="#000" stroke-width="4"/>
<line x1="1192.9" y1="805.2" x2="1192.9" y2="934" stroke="#2e2e2e" stroke-width="2.05"/>
<line x1="1192.9" y1="1021.2" x2="1192.9" y2="1149.7" stroke="#2e2e2e" stroke-width="2.05"/>
<rect x="1182.25" y="934" width="21.3" height="87.2" fill="#56BAA8" stroke="#2e2e2e" stroke-width="2"/>
<line x1="1182.2" y1="971.6" x2="1203.6" y2="971.6" stroke="#000" stroke-width="4"/>
<line x1="1221.4" y1="826.3" x2="1221.4" y2="956" stroke="#2e2e2e" stroke-width="2.05"/>
<line x1="1221.4" y1="1050.6" x2="1221.4" y2="1157.9" stroke="#2e2e2e" stroke-width="2.05"/>
<rect x="1210.75" y="956" width="21.3" height="94.6" fill="#4D5FAB" stroke="#2e2e2e" stroke-width="2"/>
<line x1="1210.7" y1="989.8" x2="1232.1" y2="989.8" stroke="#000" stroke-width="4"/>
<line x1="1249.8" y1="776.4" x2="1249.8" y2="935.5" stroke="#2e2e2e" stroke-width="2.05"/>
<line x1="1249.8" y1="1101" x2="1249.8" y2="1162.9" stroke="#2e2e2e" stroke-width="2.05"/>
<rect x="1239.15" y="935.5" width="21.3" height="165.5" fill="#C3284A" stroke="#2e2e2e" stroke-width="2"/>
<line x1="1239.1" y1="1016.5" x2="1260.5" y2="1016.5" stroke="#000" stroke-width="4"/>
<path d="M1147.1 716.1V1169.4H1266.6" fill="none" stroke="#2a2a2a" stroke-width="1.15"/>
<line x1="1137.6" y1="720" x2="1147.1" y2="720" stroke="#2a2a2a" stroke-width="1.15"/>
<text class="tk" transform="translate(1085.48 728.3) scale(1.06 1)" font-size="24.5" x="-0.68 12.84 27.61">500</text>
<line x1="1137.6" y1="815.1" x2="1147.1" y2="815.1" stroke="#2a2a2a" stroke-width="1.15"/>
<text class="tk" transform="translate(1083.28 823.4) scale(1.06 1)" font-size="24.5" x="0.36 14.92 29.69">400</text>
<line x1="1137.6" y1="910.5" x2="1147.1" y2="910.5" stroke="#2a2a2a" stroke-width="1.15"/>
<text class="tk" transform="translate(1085.18 918.8) scale(1.06 1)" font-size="24.5" x="-0.54 13.12 27.9">300</text>
<line x1="1137.6" y1="1005.9" x2="1147.1" y2="1005.9" stroke="#2a2a2a" stroke-width="1.15"/>
<text class="tk" transform="translate(1085.48 1014.2) scale(1.06 1)" font-size="24.5" x="-0.68 12.84 27.61">200</text>
<line x1="1137.6" y1="1101.3" x2="1147.1" y2="1101.3" stroke="#2a2a2a" stroke-width="1.15"/>
<text class="tk" transform="translate(1088.28 1109.6) scale(1.06 1)" font-size="24.5" x="-2.19 10.2 24.97">100</text>
<line x1="1164.7" y1="1169.4" x2="1164.7" y2="1179.6" stroke="#2a2a2a" stroke-width="1.15"/>
<text class="tk" transform="translate(1175.3 1204) rotate(-45)" font-size="24.5" text-anchor="end">Control</text>
<line x1="1192.9" y1="1169.4" x2="1192.9" y2="1179.6" stroke="#2a2a2a" stroke-width="1.15"/>
<text class="tk" transform="translate(1205 1200.5) rotate(-45) scale(0.9 1)" font-size="24.5" text-anchor="end">&gt;5 yr</text>
<line x1="1221.4" y1="1169.4" x2="1221.4" y2="1179.6" stroke="#2a2a2a" stroke-width="1.15"/>
<text class="tk" transform="translate(1233.5 1200.5) rotate(-45) scale(0.9 1)" font-size="24.5" text-anchor="end">1–5 yr</text>
<line x1="1249.8" y1="1169.4" x2="1249.8" y2="1179.6" stroke="#2a2a2a" stroke-width="1.15"/>
<text class="tk" transform="translate(1261.9 1200.5) rotate(-45) scale(0.9 1)" font-size="24.5" text-anchor="end">0–1 yr</text>
<text x="1194.6" y="803.94" font-size="32" text-anchor="middle" class="hv" stroke-width="0.25">*</text>
<text x="1219.3" y="826.04" font-size="32" text-anchor="middle" class="hv" stroke-width="0.25">*</text>
<text x="1249.5" y="776.14" font-size="32" text-anchor="middle" class="hv" stroke-width="0.25">*</text>
<text transform="translate(1052 942.75) rotate(-90) scale(0.9313 1)" font-size="28.3" text-anchor="middle">PLT (10<tspan font-size="18.5" dy="-12.5">9</tspan><tspan dy="12.5"> l</tspan><tspan font-size="18.5" dy="-12.5">−1</tspan><tspan dy="12.5">)</tspan></text>
<line x1="1457.6" y1="797.7" x2="1457.6" y2="911" stroke="#2e2e2e" stroke-width="2.05"/>
<line x1="1457.6" y1="988.7" x2="1457.6" y2="1089.4" stroke="#2e2e2e" stroke-width="2.05"/>
<rect x="1446.95" y="911" width="21.3" height="77.7" fill="#FDD57F" stroke="#2e2e2e" stroke-width="2"/>
<line x1="1446.9" y1="949.1" x2="1468.3" y2="949.1" stroke="#000" stroke-width="4"/>
<line x1="1486.1" y1="744.5" x2="1486.1" y2="879" stroke="#2e2e2e" stroke-width="2.05"/>
<line x1="1486.1" y1="974.1" x2="1486.1" y2="1112" stroke="#2e2e2e" stroke-width="2.05"/>
<rect x="1475.45" y="879" width="21.3" height="95.1" fill="#56BAA8" stroke="#2e2e2e" stroke-width="2"/>
<line x1="1475.4" y1="926.8" x2="1496.8" y2="926.8" stroke="#000" stroke-width="4"/>
<line x1="1514.6" y1="754.2" x2="1514.6" y2="868.7" stroke="#2e2e2e" stroke-width="2.05"/>
<line x1="1514.6" y1="976.4" x2="1514.6" y2="1119.4" stroke="#2e2e2e" stroke-width="2.05"/>
<rect x="1503.95" y="868.7" width="21.3" height="107.7" fill="#4D5FAB" stroke="#2e2e2e" stroke-width="2"/>
<line x1="1503.9" y1="913.9" x2="1525.3" y2="913.9" stroke="#000" stroke-width="4"/>
<line x1="1543.1" y1="725.7" x2="1543.1" y2="878.4" stroke="#2e2e2e" stroke-width="2.05"/>
<line x1="1543.1" y1="991.4" x2="1543.1" y2="1148.7" stroke="#2e2e2e" stroke-width="2.05"/>
<rect x="1532.45" y="878.4" width="21.3" height="113" fill="#C3284A" stroke="#2e2e2e" stroke-width="2"/>
<line x1="1532.4" y1="923.3" x2="1553.8" y2="923.3" stroke="#000" stroke-width="4"/>
<path d="M1440.6 716.1V1169.4H1559.8" fill="none" stroke="#2a2a2a" stroke-width="1.15"/>
<line x1="1431.1" y1="834.3" x2="1440.6" y2="834.3" stroke="#2a2a2a" stroke-width="1.15"/>
<text class="tk" transform="translate(1377.28 842.6) scale(1.06 1)" font-size="24.5" x="-2.19 10.2 24.97">100</text>
<line x1="1431.1" y1="970" x2="1440.6" y2="970" stroke="#2a2a2a" stroke-width="1.15"/>
<text class="tk" transform="translate(1388.84 978.3) scale(1.06 1)" font-size="24.5" x="-0.07 14.07">90</text>
<line x1="1431.1" y1="1105.3" x2="1440.6" y2="1105.3" stroke="#2a2a2a" stroke-width="1.15"/>
<text class="tk" transform="translate(1388.84 1113.6) scale(1.06 1)" font-size="24.5" x="-0.07 14.07">80</text>
<line x1="1457.6" y1="1169.4" x2="1457.6" y2="1179.6" stroke="#2a2a2a" stroke-width="1.15"/>
<text class="tk" transform="translate(1468.2 1204) rotate(-45)" font-size="24.5" text-anchor="end">Control</text>
<line x1="1486.1" y1="1169.4" x2="1486.1" y2="1179.6" stroke="#2a2a2a" stroke-width="1.15"/>
<text class="tk" transform="translate(1498.2 1200.5) rotate(-45) scale(0.9 1)" font-size="24.5" text-anchor="end">&gt;5 yr</text>
<line x1="1514.6" y1="1169.4" x2="1514.6" y2="1179.6" stroke="#2a2a2a" stroke-width="1.15"/>
<text class="tk" transform="translate(1526.7 1200.5) rotate(-45) scale(0.9 1)" font-size="24.5" text-anchor="end">1–5 yr</text>
<line x1="1543.1" y1="1169.4" x2="1543.1" y2="1179.6" stroke="#2a2a2a" stroke-width="1.15"/>
<text class="tk" transform="translate(1555.2 1200.5) rotate(-45) scale(0.9 1)" font-size="24.5" text-anchor="end">0–1 yr</text>
<text x="1486.7" y="742.74" font-size="32" text-anchor="middle" class="hv" stroke-width="0.25">*</text>
<text x="1515.8" y="757.44" font-size="32" text-anchor="middle" class="hv" stroke-width="0.25">*</text>
<text x="1543.1" y="724.54" font-size="32" text-anchor="middle" class="hv" stroke-width="0.25">*</text>
<text transform="translate(1354.4 942.75) rotate(-90) scale(0.9590 1)" font-size="28.3" text-anchor="middle">MCV (fl)</text>
<line x1="1751.5" y1="959.1" x2="1751.5" y2="1038.6" stroke="#2e2e2e" stroke-width="2.05"/>
<line x1="1751.5" y1="1093.5" x2="1751.5" y2="1154" stroke="#2e2e2e" stroke-width="2.05"/>
<rect x="1739.65" y="1038.6" width="23.7" height="54.9" fill="#FDD57F" stroke="#2e2e2e" stroke-width="2"/>
<line x1="1739.6" y1="1063.9" x2="1763.4" y2="1063.9" stroke="#000" stroke-width="4"/>
<line x1="1783.2" y1="906" x2="1783.2" y2="1010.8" stroke="#2e2e2e" stroke-width="2.05"/>
<line x1="1783.2" y1="1082.7" x2="1783.2" y2="1169.4" stroke="#2e2e2e" stroke-width="2.05"/>
<rect x="1771.35" y="1010.8" width="23.7" height="71.9" fill="#56BAA8" stroke="#2e2e2e" stroke-width="2"/>
<line x1="1771.3" y1="1031.9" x2="1795.1" y2="1031.9" stroke="#000" stroke-width="4"/>
<line x1="1814.9" y1="836.7" x2="1814.9" y2="973.5" stroke="#2e2e2e" stroke-width="2.05"/>
<line x1="1814.9" y1="1069.5" x2="1814.9" y2="1150.8" stroke="#2e2e2e" stroke-width="2.05"/>
<rect x="1803.05" y="973.5" width="23.7" height="96" fill="#4D5FAB" stroke="#2e2e2e" stroke-width="2"/>
<line x1="1803" y1="1007.2" x2="1826.8" y2="1007.2" stroke="#000" stroke-width="4"/>
<line x1="1846.3" y1="801.8" x2="1846.3" y2="895.3" stroke="#2e2e2e" stroke-width="2.05"/>
<line x1="1846.3" y1="1011" x2="1846.3" y2="1076.8" stroke="#2e2e2e" stroke-width="2.05"/>
<rect x="1834.45" y="895.3" width="23.7" height="115.7" fill="#C3284A" stroke="#2e2e2e" stroke-width="2"/>
<line x1="1834.4" y1="942.9" x2="1858.2" y2="942.9" stroke="#000" stroke-width="4"/>
<path d="M1732.1 716.1V1169.4H1865.1" fill="none" stroke="#2a2a2a" stroke-width="1.15"/>
<line x1="1722.6" y1="812" x2="1732.1" y2="812" stroke="#2a2a2a" stroke-width="1.15"/>
<text class="tk" transform="translate(1685.8 820.3) scale(1.06 1)" font-size="24.5" x="-2.19 9.56">18</text>
<line x1="1722.6" y1="923" x2="1732.1" y2="923" stroke="#2a2a2a" stroke-width="1.15"/>
<text class="tk" transform="translate(1685.8 931.3) scale(1.06 1)" font-size="24.5" x="-2.19 9.56">16</text>
<line x1="1722.6" y1="1032.8" x2="1732.1" y2="1032.8" stroke="#2a2a2a" stroke-width="1.15"/>
<text class="tk" transform="translate(1684.9 1041.1) scale(1.06 1)" font-size="24.5" x="-2.19 9.98">14</text>
<line x1="1722.6" y1="1143.1" x2="1732.1" y2="1143.1" stroke="#2a2a2a" stroke-width="1.15"/>
<text class="tk" transform="translate(1687.1 1151.4) scale(1.06 1)" font-size="24.5" x="-2.19 8.94">12</text>
<line x1="1751.5" y1="1169.4" x2="1751.5" y2="1179.6" stroke="#2a2a2a" stroke-width="1.15"/>
<text class="tk" transform="translate(1762.1 1204) rotate(-45)" font-size="24.5" text-anchor="end">Control</text>
<line x1="1783.2" y1="1169.4" x2="1783.2" y2="1179.6" stroke="#2a2a2a" stroke-width="1.15"/>
<text class="tk" transform="translate(1795.3 1200.5) rotate(-45) scale(0.9 1)" font-size="24.5" text-anchor="end">&gt;5 yr</text>
<line x1="1814.9" y1="1169.4" x2="1814.9" y2="1179.6" stroke="#2a2a2a" stroke-width="1.15"/>
<text class="tk" transform="translate(1827 1200.5) rotate(-45) scale(0.9 1)" font-size="24.5" text-anchor="end">1–5 yr</text>
<line x1="1846.3" y1="1169.4" x2="1846.3" y2="1179.6" stroke="#2a2a2a" stroke-width="1.15"/>
<text class="tk" transform="translate(1858.4 1200.5) rotate(-45) scale(0.9 1)" font-size="24.5" text-anchor="end">0–1 yr</text>
<text x="1782.9" y="906.64" font-size="32" text-anchor="middle" class="hv" stroke-width="0.25">*</text>
<text x="1814.9" y="833.64" font-size="32" text-anchor="middle" class="hv" stroke-width="0.25">*</text>
<text x="1848" y="795.84" font-size="32" text-anchor="middle" class="hv" stroke-width="0.25">*</text>
<text transform="translate(1662.3 942.75) rotate(-90) scale(0.8789 1)" font-size="28.3" text-anchor="middle">RDW (%)</text>
<line x1="2059" y1="922.4" x2="2059" y2="1016.9" stroke="#2e2e2e" stroke-width="2.05"/>
<line x1="2059" y1="1080.6" x2="2059" y2="1160.2" stroke="#2e2e2e" stroke-width="2.05"/>
<rect x="2047.45" y="1016.9" width="23.1" height="63.7" fill="#FDD57F" stroke="#2e2e2e" stroke-width="2"/>
<line x1="2047.4" y1="1041.6" x2="2070.6" y2="1041.6" stroke="#000" stroke-width="4"/>
<line x1="2088.9" y1="847.3" x2="2088.9" y2="965.3" stroke="#2e2e2e" stroke-width="2.05"/>
<line x1="2088.9" y1="1049.2" x2="2088.9" y2="1164.9" stroke="#2e2e2e" stroke-width="2.05"/>
<rect x="2077.35" y="965.3" width="23.1" height="83.9" fill="#56BAA8" stroke="#2e2e2e" stroke-width="2"/>
<line x1="2077.3" y1="1002" x2="2100.5" y2="1002" stroke="#000" stroke-width="4"/>
<line x1="2118.9" y1="829.1" x2="2118.9" y2="953.8" stroke="#2e2e2e" stroke-width="2.05"/>
<line x1="2118.9" y1="1048.3" x2="2118.9" y2="1144.6" stroke="#2e2e2e" stroke-width="2.05"/>
<rect x="2107.35" y="953.8" width="23.1" height="94.5" fill="#4D5FAB" stroke="#2e2e2e" stroke-width="2"/>
<line x1="2107.3" y1="983.8" x2="2130.5" y2="983.8" stroke="#000" stroke-width="4"/>
<line x1="2149.1" y1="846.1" x2="2149.1" y2="947.4" stroke="#2e2e2e" stroke-width="2.05"/>
<line x1="2149.1" y1="1021.6" x2="2149.1" y2="1048" stroke="#2e2e2e" stroke-width="2.05"/>
<rect x="2137.55" y="947.4" width="23.1" height="74.2" fill="#C3284A" stroke="#2e2e2e" stroke-width="2"/>
<line x1="2137.5" y1="961.4" x2="2160.7" y2="961.4" stroke="#000" stroke-width="4"/>
<path d="M2040.5 716.1V1169.4H2167" fill="none" stroke="#2a2a2a" stroke-width="1.15"/>
<line x1="2031" y1="794.7" x2="2040.5" y2="794.7" stroke="#2a2a2a" stroke-width="1.15"/>
<text class="tk" transform="translate(1989.5 803) scale(1.06 1)" font-size="24.5" x="-2.19 10.09 14.6">1.5</text>
<line x1="2031" y1="918.3" x2="2040.5" y2="918.3" stroke="#2a2a2a" stroke-width="1.15"/>
<text class="tk" transform="translate(1989.5 926.6) scale(1.06 1)" font-size="24.5" x="-2.19 10.09 14.6">1.2</text>
<line x1="2031" y1="1041.9" x2="2040.5" y2="1041.9" stroke="#2a2a2a" stroke-width="1.15"/>
<text class="tk" transform="translate(1982.74 1050.2) scale(1.06 1)" font-size="24.5" x="0.58 14.2 20.37">0.9</text>
<line x1="2031" y1="1165.7" x2="2040.5" y2="1165.7" stroke="#2a2a2a" stroke-width="1.15"/>
<text class="tk" transform="translate(1982.74 1174) scale(1.06 1)" font-size="24.5" x="0.58 14.2 20.37">0.6</text>
<line x1="2059" y1="1169.4" x2="2059" y2="1179.6" stroke="#2a2a2a" stroke-width="1.15"/>
<text class="tk" transform="translate(2069.6 1204) rotate(-45)" font-size="24.5" text-anchor="end">Control</text>
<line x1="2088.9" y1="1169.4" x2="2088.9" y2="1179.6" stroke="#2a2a2a" stroke-width="1.15"/>
<text class="tk" transform="translate(2101 1200.5) rotate(-45) scale(0.9 1)" font-size="24.5" text-anchor="end">&gt;5 yr</text>
<line x1="2118.9" y1="1169.4" x2="2118.9" y2="1179.6" stroke="#2a2a2a" stroke-width="1.15"/>
<text class="tk" transform="translate(2131 1200.5) rotate(-45) scale(0.9 1)" font-size="24.5" text-anchor="end">1–5 yr</text>
<line x1="2149.1" y1="1169.4" x2="2149.1" y2="1179.6" stroke="#2a2a2a" stroke-width="1.15"/>
<text class="tk" transform="translate(2161.2 1200.5) rotate(-45) scale(0.9 1)" font-size="24.5" text-anchor="end">0–1 yr</text>
<text x="2088.3" y="842.04" font-size="32" text-anchor="middle" class="hv" stroke-width="0.25">*</text>
<text x="2120.9" y="823.34" font-size="32" text-anchor="middle" class="hv" stroke-width="0.25">*</text>
<text x="2150.6" y="840.94" font-size="32" text-anchor="middle" class="hv" stroke-width="0.25">*</text>
<text transform="translate(1954.5 942.75) rotate(-90) scale(0.9589 1)" font-size="28.3" text-anchor="middle">CYS (mg dl<tspan font-size="18.5" dy="-12.5">−1</tspan><tspan dy="12.5">)</tspan></text>
<line x1="843.3" y1="1425.9" x2="843.3" y2="1551.5" stroke="#2e2e2e" stroke-width="2.05"/>
<line x1="843.3" y1="1644.9" x2="843.3" y2="1764.4" stroke="#2e2e2e" stroke-width="2.05"/>
<rect x="831.55" y="1551.5" width="23.5" height="93.4" fill="#FDD57F" stroke="#2e2e2e" stroke-width="2"/>
<line x1="831.5" y1="1597" x2="855.1" y2="1597" stroke="#000" stroke-width="4"/>
<line x1="875.3" y1="1390.4" x2="875.3" y2="1537.7" stroke="#2e2e2e" stroke-width="2.05"/>
<line x1="875.3" y1="1640.2" x2="875.3" y2="1787.2" stroke="#2e2e2e" stroke-width="2.05"/>
<rect x="863.55" y="1537.7" width="23.5" height="102.5" fill="#56BAA8" stroke="#2e2e2e" stroke-width="2"/>
<line x1="863.5" y1="1587.9" x2="887.1" y2="1587.9" stroke="#000" stroke-width="4"/>
<line x1="907" y1="1355.3" x2="907" y2="1484.3" stroke="#2e2e2e" stroke-width="2.05"/>
<line x1="907" y1="1641" x2="907" y2="1808.5" stroke="#2e2e2e" stroke-width="2.05"/>
<rect x="895.25" y="1484.3" width="23.5" height="156.7" fill="#4D5FAB" stroke="#2e2e2e" stroke-width="2"/>
<line x1="895.2" y1="1559.7" x2="918.8" y2="1559.7" stroke="#000" stroke-width="4"/>
<line x1="938.4" y1="1477.8" x2="938.4" y2="1553" stroke="#2e2e2e" stroke-width="2.05"/>
<line x1="938.4" y1="1660.4" x2="938.4" y2="1754.4" stroke="#2e2e2e" stroke-width="2.05"/>
<rect x="926.65" y="1553" width="23.5" height="107.4" fill="#C3284A" stroke="#2e2e2e" stroke-width="2"/>
<line x1="926.6" y1="1596.4" x2="950.2" y2="1596.4" stroke="#000" stroke-width="4"/>
<path d="M824.5 1355.3V1808.5H957.2" fill="none" stroke="#2a2a2a" stroke-width="1.15"/>
<line x1="815" y1="1381.6" x2="824.5" y2="1381.6" stroke="#2a2a2a" stroke-width="1.15"/>
<text class="tk" transform="translate(778.2 1389.9) scale(1.06 1)" font-size="24.5" x="-2.19 9.56">18</text>
<line x1="815" y1="1496" x2="824.5" y2="1496" stroke="#2a2a2a" stroke-width="1.15"/>
<text class="tk" transform="translate(778.2 1504.3) scale(1.06 1)" font-size="24.5" x="-2.19 9.56">16</text>
<line x1="815" y1="1610.5" x2="824.5" y2="1610.5" stroke="#2a2a2a" stroke-width="1.15"/>
<text class="tk" transform="translate(777.3 1618.8) scale(1.06 1)" font-size="24.5" x="-2.19 9.98">14</text>
<line x1="815" y1="1725" x2="824.5" y2="1725" stroke="#2a2a2a" stroke-width="1.15"/>
<text class="tk" transform="translate(779.5 1733.3) scale(1.06 1)" font-size="24.5" x="-2.19 8.94">12</text>
<line x1="843.3" y1="1808.5" x2="843.3" y2="1818.7" stroke="#2a2a2a" stroke-width="1.15"/>
<text class="tk" transform="translate(853.9 1843.1) rotate(-45)" font-size="24.5" text-anchor="end">Control</text>
<line x1="875.2" y1="1808.5" x2="875.2" y2="1818.7" stroke="#2a2a2a" stroke-width="1.15"/>
<text class="tk" transform="translate(887.3 1839.6) rotate(-45) scale(0.9 1)" font-size="24.5" text-anchor="end">&gt;5 yr</text>
<line x1="906.9" y1="1808.5" x2="906.9" y2="1818.7" stroke="#2a2a2a" stroke-width="1.15"/>
<text class="tk" transform="translate(919 1839.6) rotate(-45) scale(0.9 1)" font-size="24.5" text-anchor="end">1–5 yr</text>
<line x1="942.2" y1="1808.5" x2="942.2" y2="1818.7" stroke="#2a2a2a" stroke-width="1.15"/>
<text class="tk" transform="translate(954.3 1839.6) rotate(-45) scale(0.9 1)" font-size="24.5" text-anchor="end">0–1 yr</text>
<text x="907" y="1356.04" font-size="32" text-anchor="middle" class="hv" stroke-width="0.25">*</text>
<text transform="translate(757.3 1581.9) rotate(-90) scale(0.9315 1)" font-size="28.3" text-anchor="middle">HGB (g l<tspan font-size="18.5" dy="-12.5">−1</tspan><tspan dy="12.5">)</tspan></text>
<line x1="1160.3" y1="1595" x2="1160.3" y2="1656.6" stroke="#2e2e2e" stroke-width="2.05"/>
<line x1="1160.3" y1="1701.2" x2="1160.3" y2="1763.3" stroke="#2e2e2e" stroke-width="2.05"/>
<rect x="1149.65" y="1656.6" width="21.3" height="44.6" fill="#FDD57F" stroke="#2e2e2e" stroke-width="2"/>
<line x1="1149.6" y1="1678" x2="1171" y2="1678" stroke="#000" stroke-width="4"/>
<line x1="1188.8" y1="1445" x2="1188.8" y2="1586.5" stroke="#2e2e2e" stroke-width="2.05"/>
<line x1="1188.8" y1="1681.6" x2="1188.8" y2="1808.5" stroke="#2e2e2e" stroke-width="2.05"/>
<rect x="1178.15" y="1586.5" width="21.3" height="95.1" fill="#56BAA8" stroke="#2e2e2e" stroke-width="2"/>
<line x1="1178.1" y1="1628.7" x2="1199.5" y2="1628.7" stroke="#000" stroke-width="4"/>
<line x1="1217.5" y1="1377.7" x2="1217.5" y2="1566.5" stroke="#2e2e2e" stroke-width="2.05"/>
<line x1="1217.5" y1="1696" x2="1217.5" y2="1808.5" stroke="#2e2e2e" stroke-width="2.05"/>
<rect x="1206.85" y="1566.5" width="21.3" height="129.5" fill="#4D5FAB" stroke="#2e2e2e" stroke-width="2"/>
<line x1="1206.8" y1="1623.4" x2="1228.2" y2="1623.4" stroke="#000" stroke-width="4"/>
<line x1="1246" y1="1355.3" x2="1246" y2="1483.4" stroke="#2e2e2e" stroke-width="2.05"/>
<line x1="1246" y1="1681.6" x2="1246" y2="1808.5" stroke="#2e2e2e" stroke-width="2.05"/>
<rect x="1235.35" y="1483.4" width="21.3" height="198.2" fill="#C3284A" stroke="#2e2e2e" stroke-width="2"/>
<line x1="1235.3" y1="1565" x2="1256.7" y2="1565" stroke="#000" stroke-width="4"/>
<path d="M1143.3 1355.3V1808.5H1262.5" fill="none" stroke="#2a2a2a" stroke-width="1.15"/>
<line x1="1133.8" y1="1447" x2="1143.3" y2="1447" stroke="#2a2a2a" stroke-width="1.15"/>
<text class="tk" transform="translate(1075.88 1455.3) scale(1.06 1)" font-size="24.5" x="-0.07 14.07 28.84">600</text>
<line x1="1133.8" y1="1580" x2="1143.3" y2="1580" stroke="#2a2a2a" stroke-width="1.15"/>
<text class="tk" transform="translate(1074.98 1588.3) scale(1.06 1)" font-size="24.5" x="0.36 14.92 29.69">400</text>
<line x1="1133.8" y1="1713" x2="1143.3" y2="1713" stroke="#2a2a2a" stroke-width="1.15"/>
<text class="tk" transform="translate(1077.18 1721.3) scale(1.06 1)" font-size="24.5" x="-0.68 12.84 27.61">200</text>
<line x1="1160.3" y1="1808.5" x2="1160.3" y2="1818.7" stroke="#2a2a2a" stroke-width="1.15"/>
<text class="tk" transform="translate(1170.9 1843.1) rotate(-45)" font-size="24.5" text-anchor="end">Control</text>
<line x1="1188.8" y1="1808.5" x2="1188.8" y2="1818.7" stroke="#2a2a2a" stroke-width="1.15"/>
<text class="tk" transform="translate(1200.9 1839.6) rotate(-45) scale(0.9 1)" font-size="24.5" text-anchor="end">&gt;5 yr</text>
<line x1="1217.5" y1="1808.5" x2="1217.5" y2="1818.7" stroke="#2a2a2a" stroke-width="1.15"/>
<text class="tk" transform="translate(1229.6 1839.6) rotate(-45) scale(0.9 1)" font-size="24.5" text-anchor="end">1–5 yr</text>
<line x1="1246" y1="1808.5" x2="1246" y2="1818.7" stroke="#2a2a2a" stroke-width="1.15"/>
<text class="tk" transform="translate(1258.1 1839.6) rotate(-45) scale(0.9 1)" font-size="24.5" text-anchor="end">0–1 yr</text>
<text x="1189.1" y="1448.44" font-size="32" text-anchor="middle" class="hv" stroke-width="0.25">*</text>
<text x="1217" y="1381.84" font-size="32" text-anchor="middle" class="hv" stroke-width="0.25">*</text>
<text x="1246.3" y="1355.44" font-size="32" text-anchor="middle" class="hv" stroke-width="0.25">*</text>
<text transform="translate(1052 1581.9) rotate(-90) scale(0.9313 1)" font-size="28.3" text-anchor="middle">PLT (10<tspan font-size="18.5" dy="-12.5">9</tspan><tspan dy="12.5"> l</tspan><tspan font-size="18.5" dy="-12.5">−1</tspan><tspan dy="12.5">)</tspan></text>
<line x1="1453.5" y1="1474" x2="1453.5" y2="1573" stroke="#2e2e2e" stroke-width="2.05"/>
<line x1="1453.5" y1="1640.2" x2="1453.5" y2="1728" stroke="#2e2e2e" stroke-width="2.05"/>
<rect x="1442.95" y="1573" width="21.1" height="67.2" fill="#FDD57F" stroke="#2e2e2e" stroke-width="2"/>
<line x1="1442.9" y1="1605.8" x2="1464.1" y2="1605.8" stroke="#000" stroke-width="4"/>
<line x1="1482" y1="1472.6" x2="1482" y2="1571.8" stroke="#2e2e2e" stroke-width="2.05"/>
<line x1="1482" y1="1640.8" x2="1482" y2="1742" stroke="#2e2e2e" stroke-width="2.05"/>
<rect x="1471.45" y="1571.8" width="21.1" height="69" fill="#56BAA8" stroke="#2e2e2e" stroke-width="2"/>
<line x1="1471.4" y1="1602.9" x2="1492.6" y2="1602.9" stroke="#000" stroke-width="4"/>
<line x1="1510.5" y1="1460.8" x2="1510.5" y2="1563" stroke="#2e2e2e" stroke-width="2.05"/>
<line x1="1510.5" y1="1634.6" x2="1510.5" y2="1737.9" stroke="#2e2e2e" stroke-width="2.05"/>
<rect x="1499.95" y="1563" width="21.1" height="71.6" fill="#4D5FAB" stroke="#2e2e2e" stroke-width="2"/>
<line x1="1499.9" y1="1595" x2="1521.1" y2="1595" stroke="#000" stroke-width="4"/>
<line x1="1539.2" y1="1442.9" x2="1539.2" y2="1531.6" stroke="#2e2e2e" stroke-width="2.05"/>
<line x1="1539.2" y1="1634" x2="1539.2" y2="1723.8" stroke="#2e2e2e" stroke-width="2.05"/>
<rect x="1528.65" y="1531.6" width="21.1" height="102.4" fill="#C3284A" stroke="#2e2e2e" stroke-width="2"/>
<line x1="1528.6" y1="1582" x2="1549.8" y2="1582" stroke="#000" stroke-width="4"/>
<path d="M1436.5 1355.3V1808.5H1555.4" fill="none" stroke="#2a2a2a" stroke-width="1.15"/>
<line x1="1427" y1="1386.9" x2="1436.5" y2="1386.9" stroke="#2a2a2a" stroke-width="1.15"/>
<text class="tk" transform="translate(1378.64 1395.2) scale(1.06 1)" font-size="24.5" x="-2.19 7.43 19.82">110</text>
<line x1="1427" y1="1505.7" x2="1436.5" y2="1505.7" stroke="#2a2a2a" stroke-width="1.15"/>
<text class="tk" transform="translate(1373.18 1514) scale(1.06 1)" font-size="24.5" x="-2.19 10.2 24.97">100</text>
<line x1="1427" y1="1623.8" x2="1436.5" y2="1623.8" stroke="#2a2a2a" stroke-width="1.15"/>
<text class="tk" transform="translate(1384.74 1632.1) scale(1.06 1)" font-size="24.5" x="-0.07 14.07">90</text>
<line x1="1427" y1="1742" x2="1436.5" y2="1742" stroke="#2a2a2a" stroke-width="1.15"/>
<text class="tk" transform="translate(1384.74 1750.3) scale(1.06 1)" font-size="24.5" x="-0.07 14.07">80</text>
<line x1="1453.3" y1="1808.5" x2="1453.3" y2="1818.7" stroke="#2a2a2a" stroke-width="1.15"/>
<text class="tk" transform="translate(1463.9 1843.1) rotate(-45)" font-size="24.5" text-anchor="end">Control</text>
<line x1="1482" y1="1808.5" x2="1482" y2="1818.7" stroke="#2a2a2a" stroke-width="1.15"/>
<text class="tk" transform="translate(1494.1 1839.6) rotate(-45) scale(0.9 1)" font-size="24.5" text-anchor="end">&gt;5 yr</text>
<line x1="1510.3" y1="1808.5" x2="1510.3" y2="1818.7" stroke="#2a2a2a" stroke-width="1.15"/>
<text class="tk" transform="translate(1522.4 1839.6) rotate(-45) scale(0.9 1)" font-size="24.5" text-anchor="end">1–5 yr</text>
<line x1="1553.3" y1="1808.5" x2="1553.3" y2="1818.7" stroke="#2a2a2a" stroke-width="1.15"/>
<text class="tk" transform="translate(1565.4 1839.6) rotate(-45) scale(0.9 1)" font-size="24.5" text-anchor="end">0–1 yr</text>
<text transform="translate(1354.4 1581.9) rotate(-90) scale(0.9590 1)" font-size="28.3" text-anchor="middle">MCV (fl)</text>
<line x1="1745.6" y1="1616.4" x2="1745.6" y2="1688.3" stroke="#2e2e2e" stroke-width="2.05"/>
<line x1="1745.6" y1="1737.9" x2="1745.6" y2="1792.5" stroke="#2e2e2e" stroke-width="2.05"/>
<rect x="1733.85" y="1688.3" width="23.5" height="49.6" fill="#FDD57F" stroke="#2e2e2e" stroke-width="2"/>
<line x1="1733.8" y1="1710.9" x2="1757.4" y2="1710.9" stroke="#000" stroke-width="4"/>
<line x1="1777" y1="1587.9" x2="1777" y2="1667.8" stroke="#2e2e2e" stroke-width="2.05"/>
<line x1="1777" y1="1723.3" x2="1777" y2="1797.8" stroke="#2e2e2e" stroke-width="2.05"/>
<rect x="1765.25" y="1667.8" width="23.5" height="55.5" fill="#56BAA8" stroke="#2e2e2e" stroke-width="2"/>
<line x1="1765.2" y1="1687.2" x2="1788.8" y2="1687.2" stroke="#000" stroke-width="4"/>
<line x1="1808.7" y1="1494" x2="1808.7" y2="1627.6" stroke="#2e2e2e" stroke-width="2.05"/>
<line x1="1808.7" y1="1718" x2="1808.7" y2="1797.8" stroke="#2e2e2e" stroke-width="2.05"/>
<rect x="1796.95" y="1627.6" width="23.5" height="90.4" fill="#4D5FAB" stroke="#2e2e2e" stroke-width="2"/>
<line x1="1796.9" y1="1647.2" x2="1820.5" y2="1647.2" stroke="#000" stroke-width="4"/>
<line x1="1840.4" y1="1506" x2="1840.4" y2="1625.5" stroke="#2e2e2e" stroke-width="2.05"/>
<line x1="1840.4" y1="1713.6" x2="1840.4" y2="1808.5" stroke="#2e2e2e" stroke-width="2.05"/>
<rect x="1828.65" y="1625.5" width="23.5" height="88.1" fill="#C3284A" stroke="#2e2e2e" stroke-width="2"/>
<line x1="1828.6" y1="1659.3" x2="1852.2" y2="1659.3" stroke="#000" stroke-width="4"/>
<path d="M1726.5 1355.3V1808.5H1858.6" fill="none" stroke="#2a2a2a" stroke-width="1.15"/>
<line x1="1717" y1="1383.9" x2="1726.5" y2="1383.9" stroke="#2a2a2a" stroke-width="1.15"/>
<text class="tk" transform="translate(1676.04 1392.2) scale(1.06 1)" font-size="24.5" x="-0.68 12.84">20</text>
<line x1="1717" y1="1483.4" x2="1726.5" y2="1483.4" stroke="#2a2a2a" stroke-width="1.15"/>
<text class="tk" transform="translate(1680.2 1491.7) scale(1.06 1)" font-size="24.5" x="-2.19 9.56">18</text>
<line x1="1717" y1="1583" x2="1726.5" y2="1583" stroke="#2a2a2a" stroke-width="1.15"/>
<text class="tk" transform="translate(1680.2 1591.3) scale(1.06 1)" font-size="24.5" x="-2.19 9.56">16</text>
<line x1="1717" y1="1682.8" x2="1726.5" y2="1682.8" stroke="#2a2a2a" stroke-width="1.15"/>
<text class="tk" transform="translate(1679.3 1691.1) scale(1.06 1)" font-size="24.5" x="-2.19 9.98">14</text>
<line x1="1717" y1="1782.3" x2="1726.5" y2="1782.3" stroke="#2a2a2a" stroke-width="1.15"/>
<text class="tk" transform="translate(1681.5 1790.6) scale(1.06 1)" font-size="24.5" x="-2.19 8.94">12</text>
<line x1="1745.6" y1="1808.5" x2="1745.6" y2="1818.7" stroke="#2a2a2a" stroke-width="1.15"/>
<text class="tk" transform="translate(1756.2 1843.1) rotate(-45)" font-size="24.5" text-anchor="end">Control</text>
<line x1="1777" y1="1808.5" x2="1777" y2="1818.7" stroke="#2a2a2a" stroke-width="1.15"/>
<text class="tk" transform="translate(1789.1 1839.6) rotate(-45) scale(0.9 1)" font-size="24.5" text-anchor="end">&gt;5 yr</text>
<line x1="1808.7" y1="1808.5" x2="1808.7" y2="1818.7" stroke="#2a2a2a" stroke-width="1.15"/>
<text class="tk" transform="translate(1820.8 1839.6) rotate(-45) scale(0.9 1)" font-size="24.5" text-anchor="end">1–5 yr</text>
<line x1="1840.4" y1="1808.5" x2="1840.4" y2="1818.7" stroke="#2a2a2a" stroke-width="1.15"/>
<text class="tk" transform="translate(1852.5 1839.6) rotate(-45) scale(0.9 1)" font-size="24.5" text-anchor="end">0–1 yr</text>
<text x="1809.9" y="1497.24" font-size="32" text-anchor="middle" class="hv" stroke-width="0.25">*</text>
<text x="1840.4" y="1512.24" font-size="32" text-anchor="middle" class="hv" stroke-width="0.25">*</text>
<text transform="translate(1662.3 1581.9) rotate(-90) scale(0.8789 1)" font-size="28.3" text-anchor="middle">RDW (%)</text>
<line x1="2056.9" y1="1549.8" x2="2056.9" y2="1647.5" stroke="#2e2e2e" stroke-width="2.05"/>
<line x1="2056.9" y1="1713.6" x2="2056.9" y2="1796.1" stroke="#2e2e2e" stroke-width="2.05"/>
<rect x="2045.55" y="1647.5" width="22.7" height="66.1" fill="#FDD57F" stroke="#2e2e2e" stroke-width="2"/>
<line x1="2045.5" y1="1673.1" x2="2068.3" y2="1673.1" stroke="#000" stroke-width="4"/>
<line x1="2087.2" y1="1502.2" x2="2087.2" y2="1616.7" stroke="#2e2e2e" stroke-width="2.05"/>
<line x1="2087.2" y1="1696.3" x2="2087.2" y2="1788.7" stroke="#2e2e2e" stroke-width="2.05"/>
<rect x="2075.85" y="1616.7" width="22.7" height="79.6" fill="#56BAA8" stroke="#2e2e2e" stroke-width="2"/>
<line x1="2075.8" y1="1653.4" x2="2098.6" y2="1653.4" stroke="#000" stroke-width="4"/>
<line x1="2117.1" y1="1462.3" x2="2117.1" y2="1589.4" stroke="#2e2e2e" stroke-width="2.05"/>
<line x1="2117.1" y1="1682.5" x2="2117.1" y2="1804.9" stroke="#2e2e2e" stroke-width="2.05"/>
<rect x="2105.75" y="1589.4" width="22.7" height="93.1" fill="#4D5FAB" stroke="#2e2e2e" stroke-width="2"/>
<line x1="2105.7" y1="1622" x2="2128.5" y2="1622" stroke="#000" stroke-width="4"/>
<line x1="2147" y1="1524.8" x2="2147" y2="1603.5" stroke="#2e2e2e" stroke-width="2.05"/>
<line x1="2147" y1="1674" x2="2147" y2="1732.7" stroke="#2e2e2e" stroke-width="2.05"/>
<rect x="2135.65" y="1603.5" width="22.7" height="70.5" fill="#C3284A" stroke="#2e2e2e" stroke-width="2"/>
<line x1="2135.6" y1="1622.3" x2="2158.4" y2="1622.3" stroke="#000" stroke-width="4"/>
<path d="M2038.7 1355.3V1808.5H2165" fill="none" stroke="#2a2a2a" stroke-width="1.15"/>
<line x1="2029.2" y1="1375.1" x2="2038.7" y2="1375.1" stroke="#2a2a2a" stroke-width="1.15"/>
<text class="tk" transform="translate(1986.4 1383.4) scale(1.06 1)" font-size="24.5" x="-2.19 10.09 15.22">1.6</text>
<line x1="2029.2" y1="1460.3" x2="2038.7" y2="1460.3" stroke="#2a2a2a" stroke-width="1.15"/>
<text class="tk" transform="translate(1985.5 1468.6) scale(1.06 1)" font-size="24.5" x="-2.19 10.09 15.64">1.4</text>
<line x1="2029.2" y1="1546" x2="2038.7" y2="1546" stroke="#2a2a2a" stroke-width="1.15"/>
<text class="tk" transform="translate(1987.7 1554.3) scale(1.06 1)" font-size="24.5" x="-2.19 10.09 14.6">1.2</text>
<line x1="2029.2" y1="1631.1" x2="2038.7" y2="1631.1" stroke="#2a2a2a" stroke-width="1.15"/>
<text class="tk" transform="translate(1985.04 1639.4) scale(1.06 1)" font-size="24.5" x="-2.19 10.09 15.86">1.0</text>
<line x1="2029.2" y1="1716.5" x2="2038.7" y2="1716.5" stroke="#2a2a2a" stroke-width="1.15"/>
<text class="tk" transform="translate(1980.94 1724.8) scale(1.06 1)" font-size="24.5" x="0.58 14.2 20.37">0.8</text>
<line x1="2029.2" y1="1801.6" x2="2038.7" y2="1801.6" stroke="#2a2a2a" stroke-width="1.15"/>
<text class="tk" transform="translate(1980.94 1809.9) scale(1.06 1)" font-size="24.5" x="0.58 14.2 20.37">0.6</text>
<line x1="2056.9" y1="1808.5" x2="2056.9" y2="1818.7" stroke="#2a2a2a" stroke-width="1.15"/>
<text class="tk" transform="translate(2067.5 1843.1) rotate(-45)" font-size="24.5" text-anchor="end">Control</text>
<line x1="2087.2" y1="1808.5" x2="2087.2" y2="1818.7" stroke="#2a2a2a" stroke-width="1.15"/>
<text class="tk" transform="translate(2099.3 1839.6) rotate(-45) scale(0.9 1)" font-size="24.5" text-anchor="end">&gt;5 yr</text>
<line x1="2117.1" y1="1808.5" x2="2117.1" y2="1818.7" stroke="#2a2a2a" stroke-width="1.15"/>
<text class="tk" transform="translate(2129.2 1839.6) rotate(-45) scale(0.9 1)" font-size="24.5" text-anchor="end">1–5 yr</text>
<line x1="2147" y1="1808.5" x2="2147" y2="1818.7" stroke="#2a2a2a" stroke-width="1.15"/>
<text class="tk" transform="translate(2159.1 1839.6) rotate(-45) scale(0.9 1)" font-size="24.5" text-anchor="end">0–1 yr</text>
<text x="2087.2" y="1506.94" font-size="32" text-anchor="middle" class="hv" stroke-width="0.25">*</text>
<text x="2116.5" y="1466.74" font-size="32" text-anchor="middle" class="hv" stroke-width="0.25">*</text>
<text x="2147.3" y="1526.04" font-size="32" text-anchor="middle" class="hv" stroke-width="0.25">*</text>
<text transform="translate(1954.5 1581.9) rotate(-90) scale(0.9589 1)" font-size="28.3" text-anchor="middle">CYS (mg dl<tspan font-size="18.5" dy="-12.5">−1</tspan><tspan dy="12.5">)</tspan></text>
<text transform="translate(1497.2 37.2) scale(0.9511 1)" font-size="30.3" text-anchor="middle">Pre-AML</text>
<text transform="translate(1497 689.6) scale(0.9351 1)" font-size="30.3" text-anchor="middle">Pre-MDS</text>
<text transform="translate(1496.5 1336.2) scale(0.9311 1)" font-size="30.3" text-anchor="middle">Pre-MPN</text>
</svg>
</body>
</html>
